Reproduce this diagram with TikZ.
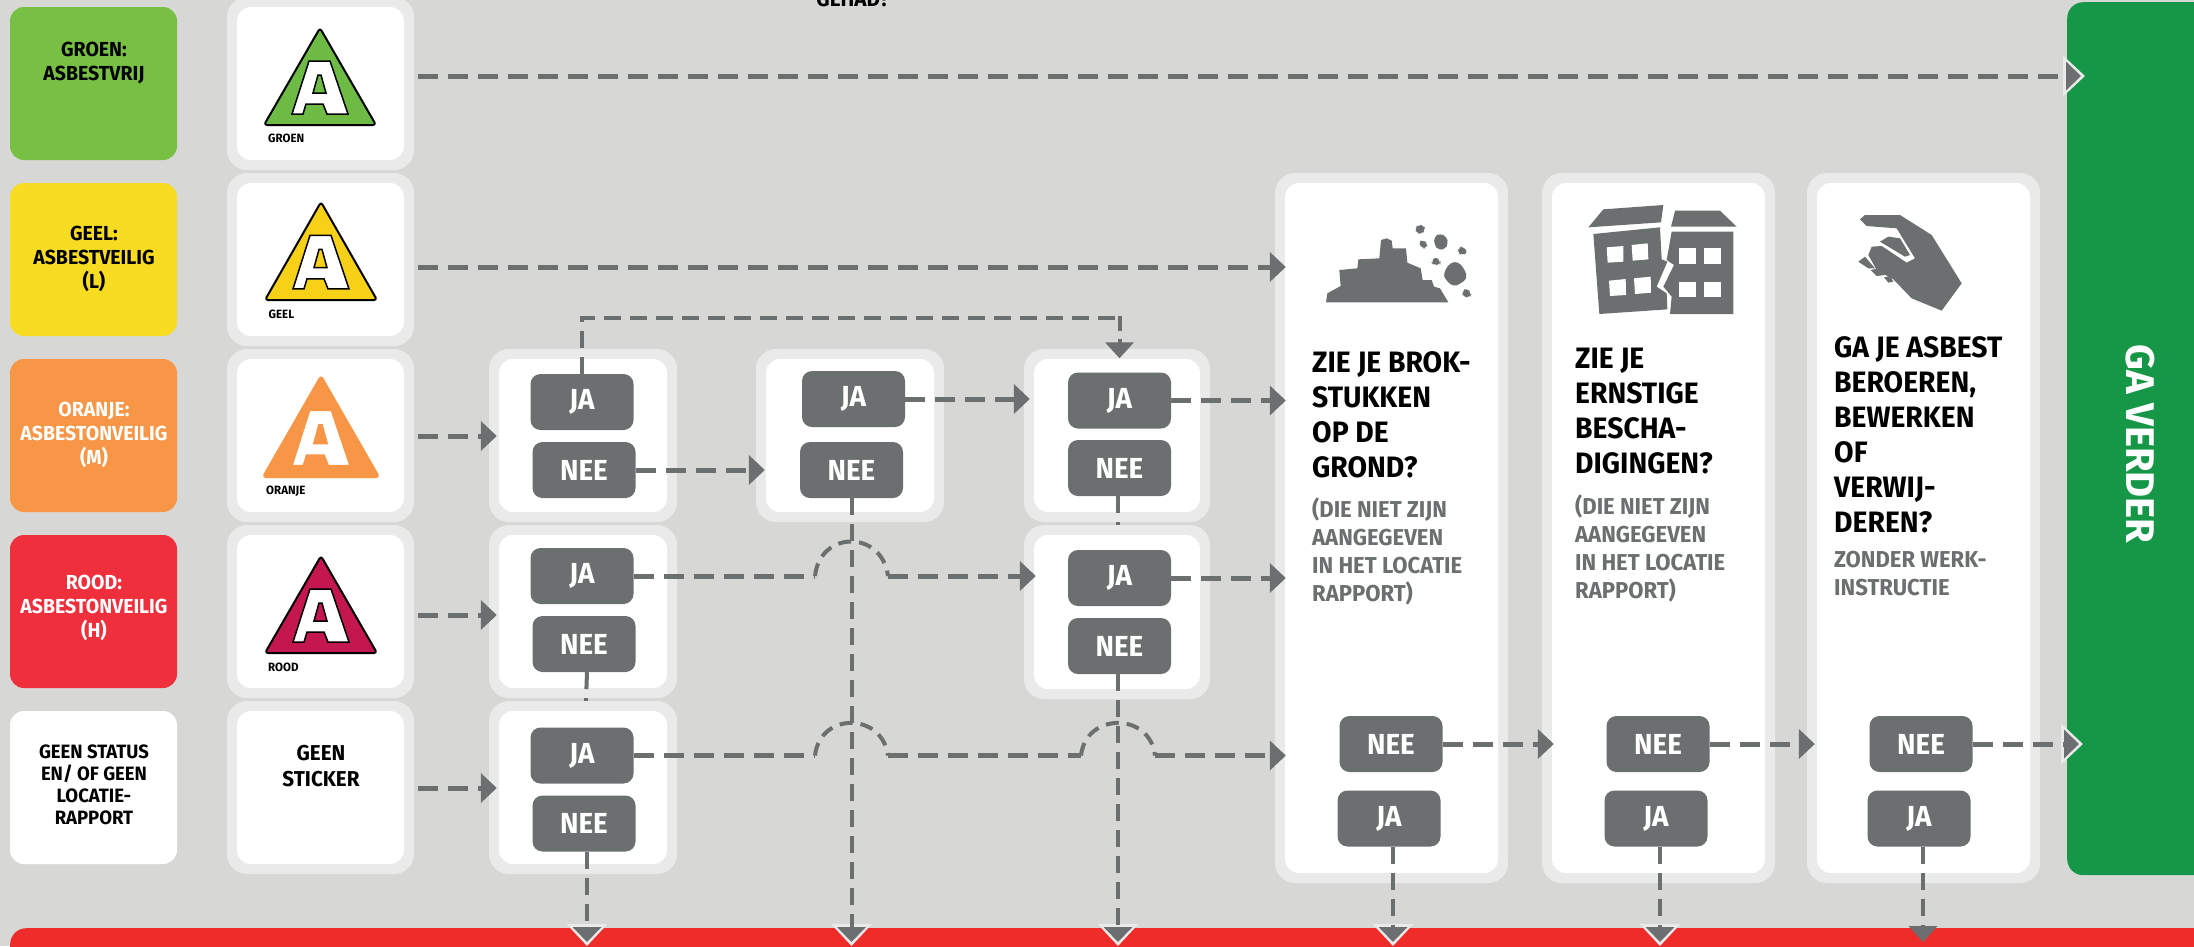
\documentclass[tikz,border=0pt]{standalone}
\usepackage{fontspec}
\usetikzlibrary{arrows.meta,calc}
\newfontfamily\kl[FakeStretch=0.96]{Fira Sans}
\newfontfamily\klw[FakeStretch=1.0]{Fira Sans}
\definecolor{bgc}{HTML}{D7D8D6}
\definecolor{cardo}{HTML}{E9EAE9}
\definecolor{btnc}{HTML}{6B6F70}
\definecolor{cgreen}{HTML}{78C043}
\definecolor{cyellow}{HTML}{F8DC22}
\definecolor{corange}{HTML}{F79646}
\definecolor{cred}{HTML}{EF2F3C}
\definecolor{cbar}{HTML}{EE2C2A}
\definecolor{cgo}{HTML}{169647}
\definecolor{cmag}{HTML}{C4174F}
\definecolor{tgreen}{HTML}{6DBB45}
\definecolor{tyellow}{HTML}{F7D117}
\pgfdeclarelayer{back}\pgfdeclarelayer{mid}
\pgfsetlayers{back,mid,main}
\tikzset{
 outercard/.style={fill=cardo,rounded corners=20pt,inner sep=0pt},
 innercard/.style={fill=white,rounded corners=14pt,inner sep=0pt},
 colorbox/.style={rounded corners=14pt,inner sep=0pt},
 btn/.style={fill=btnc,rounded corners=10pt,minimum width=103pt,minimum height=56pt,inner sep=0pt,text=white,font=\kl\bfseries\fontsize{29}{29}\selectfont},
 boxtext/.style={inner sep=0pt,align=center,font=\kl\bfseries\fontsize{20.3}{24}\selectfont},
 qtext/.style={inner sep=0pt,align=left,anchor=north west,font=\kl\bfseries\fontsize{29.5}{35}\selectfont},
 subtext/.style={inner sep=0pt,align=left,anchor=north west,text=btnc,font=\kl\bfseries\fontsize{23}{28}\selectfont},
 stlabel/.style={inner sep=0pt,anchor=west,font=\kl\bfseries\fontsize{12}{12}\selectfont},
 flow/.style={draw=btnc,line width=5pt,dash pattern=on 20pt off 10pt},
 vflow/.style={draw=btnc,line width=4pt,dash pattern=on 17pt off 9pt},
 hopflow/.style={draw=btnc,line width=4pt,dash pattern=on 13pt off 8pt},
 tip/.style={-{Triangle[length=16pt,width=29pt,color=btnc]}},
 vtip/.style={-{Triangle[length=16pt,width=28pt,color=btnc]}},
 rimtip/.style={-{Triangle[length=22pt,width=40pt,color=cardo]}},
 coretip/.style={shorten >=4pt,-{Triangle[length=15pt,width=28pt,color=btnc]}},
 icon/.style={fill=btnc,draw=none},
 hole/.style={fill=white,draw=none}
}
% style, from, to : arrow whose head has a pale rim, over a coloured bar
\newcommand{\bararrow}[3]{%
 \path[#1,rimtip,dash pattern=on 0pt off 4000pt,draw=cardo] #2 -- #3;
 \draw[#1,coretip] #2 -- #3;}
% name x1 y1 x2 y2 : white card with its pale rim
\newcommand{\cardpair}[5]{%
 \node[outercard,minimum width={(#4-#2+20)*1pt},minimum height={(#5-#3+20)*1pt}] (#1o) at ({(#2+#4)/2},{(#3+#5)/2}) {};
 \node[innercard,minimum width={(#4-#2)*1pt},minimum height={(#5-#3)*1pt}] (#1) at ({(#2+#4)/2},{(#3+#5)/2}) {};}
% name y1 y2 colour
\newcommand{\colbox}[4]{%
 \node[colorbox,fill=#4,minimum width=167pt,minimum height={(#3-#2)*1pt}] (#1) at (93.5,{(#2+#3)/2}) {};}
% apex x, apex y, half width, height, fill, outline
\newcommand{\sticker}[6]{%
 \begin{scope}[shift={(#1,#2)},xscale=#3/55,yscale=#4/96]
 \draw[fill=#5,draw=#6,line width=2pt,line join=round,rounded corners=3pt] (0,-1) -- (-56,96) -- (56,96) -- cycle;
 \draw[fill=white,draw=#6,line width=1.5pt,even odd rule,line join=miter]
  (-11,32) -- (10,32) -- (28,85) -- (7,85) -- (3,75) -- (-14,75) -- (-17,85) -- (-28,85) -- cycle
  (-2,46) -- (1,46) -- (6,64) -- (-7,64) -- cycle;
 \end{scope}}
\begin{document}
\begin{tikzpicture}[x=1pt,y=-1pt]
\clip (0,0) rectangle (2194,946);
\begin{pgfonlayer}{back}
\fill[bgc] (0,0) rectangle (2194,946);
\colbox{bg}{7}{160}{cgreen}
\colbox{by}{183}{336}{cyellow}
\colbox{bo}{359}{512}{corange}
\colbox{br}{535}{688}{cred}
\colbox{bw}{711}{864}{white}
\cardpair{sg}{237}{7}{404}{160}
\cardpair{sy}{237}{183}{404}{336}
\cardpair{so}{237}{359}{404}{512}
\cardpair{sr}{237}{535}{404}{688}
\cardpair{sw}{237}{711}{404}{864}
\cardpair{ca}{499}{359}{667}{512}
\cardpair{cb}{499}{535}{667}{688}
\cardpair{cc}{766}{359}{934}{512}
\cardpair{cd}{1034}{359}{1200}{512}
\cardpair{qa}{1285}{183}{1498}{873}
\cardpair{qb}{1552}{183}{1765}{873}
\cardpair{qc}{1817}{183}{2030}{873}
\node[fill=cgo,rounded corners=16pt,inner sep=0pt,anchor=north west,minimum width=180pt,minimum height=873pt] (gb) at (2067,2) {};
\node[fill=cbar,rounded corners=16pt,inner sep=0pt,anchor=north west,minimum width=2240pt,minimum height=60pt] (rb) at (10,928) {};
\end{pgfonlayer}
% cards that cover the line coming from the row above
\cardpair{ce}{499}{711}{667}{864}
\cardpair{cf}{1034}{535}{1200}{689}
% texts in the colour boxes
\node[boxtext] (tg) at (94,63) {GROEN:\\ASBESTVRIJ};
\node[boxtext] (ty) at (94,259) {GEEL:\\ASBESTVEILIG\\(L)};
\node[boxtext,text=white] (to) at (94,435) {ORANJE:\\ASBESTONVEILIG\\(M)};
\node[boxtext,text=white] (tr) at (94,608) {ROOD:\\ASBESTONVEILIG\\(H)};
\node[boxtext,font=\kl\bfseries\fontsize{19.3}{22}\selectfont] (tw) at (94,785) {GEEN STATUS\\EN/ OF GEEN\\LOCATIE-\\RAPPORT};
\node[boxtext,font=\kl\bfseries\fontsize{21.5}{26}\selectfont] (ts) at (321,766) {GEEN\\STICKER};
\node[inner sep=0pt,anchor=base,font=\kl\bfseries\fontsize{21.5}{21.5}\selectfont] (th) at (853,6) {GEHAD?};
% stickers
\sticker{320}{29}{55}{96}{tgreen}{black}
\sticker{321}{203}{55}{97}{tyellow}{black}
\sticker{321}{377}{57}{100}{corange}{corange}
\sticker{321}{557}{55}{96}{cmag}{black}
\node[stlabel] (lg) at (268,138) {GROEN};
\node[stlabel] (ly) at (268.5,314) {GEEL};
\node[stlabel] (lo) at (266,491) {ORANJE};
\node[stlabel] (lr) at (268,667) {ROOD};
% buttons
\node[btn] (jo1) at (582,402) {JA};
\node[btn] (no1) at (584,470) {NEE};
\node[btn] (jr1) at (582,576) {JA};
\node[btn] (nr1) at (584,644) {NEE};
\node[btn] (jw1) at (582,755.5) {JA};
\node[btn] (nw1) at (584,823.5) {NEE};
\node[btn] (jo2) at (853.5,399) {JA};
\node[btn] (no2) at (851.5,470) {NEE};
\node[btn] (jo3) at (1119.5,400.5) {JA};
\node[btn] (no3) at (1119.5,468) {NEE};
\node[btn] (jr3) at (1119.5,578) {JA};
\node[btn] (nr3) at (1119.5,646) {NEE};
\node[btn] (nqa) at (1391,744) {NEE};
\node[btn] (jqa) at (1389,818.5) {JA};
\node[btn] (nqb) at (1658,744) {NEE};
\node[btn] (jqb) at (1656,818.5) {JA};
\node[btn] (nqc) at (1921,744) {NEE};
\node[btn] (jqc) at (1919,818.5) {JA};
% question texts
\node[qtext] (qta) at (1312,351.5) {ZIE JE BROK-\\STUKKEN\\OP DE\\GROND?};
\node[subtext] (sta) at (1312,497.5) {(DIE NIET ZIJN\\AANGEGEVEN\\IN HET LOCATIE\\RAPPORT)};
\node[qtext] (qtb) at (1575,347.5) {ZIE JE\\ERNSTIGE\\BESCHA-\\DIGINGEN?};
\node[subtext] (stb) at (1575,494.5) {(DIE NIET ZIJN\\AANGEGEVEN\\IN HET LOCATIE\\RAPPORT)};
\node[qtext] (qtc) at (1834,336.5) {GA JE ASBEST\\BEROEREN,\\BEWERKEN\\OF\\VERWIJ-\\DEREN?};
\node[subtext] (stc) at (1834,551) {ZONDER WERK-\\INSTRUCTIE};
\node[inner sep=0pt,rotate=-90,text=white,font=\klw\bfseries\fontsize{40}{40}\selectfont] (go) at (2140,444) {GA VERDER};
% rubble icon
\begin{scope}[shift={(1280,190)},scale=1/3]
\fill[icon] (138,337) -- (142,310) -- (182,288) -- (178,240) -- (232,235) -- (235,208) -- (298,205) -- (303,150) -- (320,145) -- (335,152) -- (338,175) -- (378,175) -- (382,218) -- (422,235) -- (428,270) -- (455,270) -- (462,290) -- (480,295) -- (505,337) -- cycle;
\begin{scope}[rounded corners=4pt]
\fill[icon] (405,115) -- (415,104) -- (432,106) -- (436,120) -- (425,132) -- (410,130) -- cycle;
\fill[icon] (414,155) -- (430,150) -- (443,160) -- (440,175) -- (425,175) -- cycle;
\fill[icon] (462,140) -- (480,130) -- (500,140) -- (505,160) -- (495,178) -- (475,180) -- (463,165) -- cycle;
\fill[icon] (535,175) -- (548,167) -- (565,190) -- (545,195) -- (533,188) -- cycle;
\fill[icon] (453,215) -- (467,198) -- (482,215) -- (480,225) -- (460,225) -- cycle;
\fill[icon] (490,250) -- (510,218) -- (535,215) -- (555,240) -- (562,265) -- (540,282) -- (520,290) -- (495,268) -- cycle;
\fill[icon] (545,305) -- (560,293) -- (575,310) -- (570,322) -- (550,322) -- cycle;
\end{scope}
\end{scope}
% building icon
\begin{scope}[shift={(1560,190)},scale=1/3]
\fill[icon] (85,112) -- (130,58) -- (310,45) -- (303,97) -- cycle;
\fill[icon] (333,110) -- (345,62) -- (480,62) -- (530,110) -- cycle;
\fill[icon] (100,132) -- (300,112) -- (305,208) -- (322,215) -- (290,290) -- (320,310) -- (322,358) -- (118,372) -- cycle;
\fill[icon] (335,125) -- (520,125) -- (520,372) -- (330,372) -- (335,320) -- (310,290) -- (342,225) -- (320,210) -- cycle;
\fill[hole] (140,172) -- (190,168) -- (190,215) -- (143,218) -- cycle;
\fill[hole] (215,165) -- (263,160) -- (265,208) -- (218,212) -- cycle;
\fill[hole] (147,272) -- (197,267) -- (198,315) -- (150,318) -- cycle;
\fill[hole] (222,265) -- (272,260) -- (273,308) -- (225,312) -- cycle;
\fill[hole] (358,175) rectangle (407,222);
\fill[hole] (432,175) rectangle (482,222);
\fill[hole] (358,275) rectangle (407,322);
\fill[hole] (432,275) rectangle (482,322);
% hand icon
\fill[icon] (900,88) -- (915,75) -- (1020,75) -- (1115,135) -- (1205,280) -- (1145,362) -- (1055,325) -- (1000,268) -- (950,240) -- (925,195) -- (935,170) -- (965,168) -- (1040,218) -- (1065,205) -- (1010,115) -- (920,108) -- cycle;
\fill[icon] (960,155) -- (985,140) -- (1020,145) -- (1050,195) -- (1035,200) -- cycle;
\fill[icon] (895,215) -- (915,200) -- (945,235) -- (925,235) -- cycle;
\fill[icon] (932,240) -- (955,235) -- (975,255) -- (950,258) -- cycle;
\fill[icon] (972,262) -- (990,258) -- (1000,275) -- (985,278) -- cycle;
\end{scope}
% connector ends and jumps
\coordinate (sga) at (418,76);
\coordinate (sya) at (418,267);
\coordinate (soa) at (418,436);
\coordinate (sra) at (418,615);
\coordinate (swa) at (418,788);
\coordinate (ha1) at (815,576);
\coordinate (ha2) at (888,576);
\coordinate (hb1) at (815,755.5);
\coordinate (hb2) at (888,755.5);
\coordinate (hc1) at (1081,755.5);
\coordinate (hc2) at (1155,755.5);
% lines that go behind the card of the next row
\begin{pgfonlayer}{mid}
\draw[vflow] ([xshift=3pt]nr1.south) -- ([xshift=3pt]jw1.north);
\draw[vflow] ([xshift=-1.5pt]no3.south) -- ([xshift=-1.5pt]jr3.north);
\end{pgfonlayer}
% connectors
\bararrow{flow}{(sga)}{($(sga -| gb.west)+(18,0)$)}
\draw[flow,tip] (sya) -- ($(sya -| qa.west)+(1,0)$);
\draw[flow,tip] (soa) -- ($(soa -| ca.west)+(-2,0)$);
\draw[flow,tip] (sra) -- ($(sra -| cb.west)+(-2,0)$);
\draw[flow,tip] (swa) -- ($(swa -| ce.west)+(-2,0)$);
\draw[vflow,line width=4.5pt] (jo1.north) |- ($(jo1.north -| jo3.north)+(0,-56)$);
\draw[vflow,vtip,dash pattern=on 15pt off 8pt] ($(jo3.north)+(0,-56)$) -- ($(jo3.north)+(0,-14)$);
\draw[flow,tip] (no1.east) -- ($(no1.east -| cc.west)+(-1,0)$);
\draw[flow,tip] (jo2.east) -- ($(jo2.east -| cd.west)+(-4,0)$);
\draw[flow,tip] (jo3.east) -- ($(jo3.east -| qa.west)+(1,0)$);
\draw[flow,tip] (jr3.east) -- ($(jr3.east -| qa.west)+(1,0)$);
\draw[flow] (jr1.east) -- (ha1);
\draw[hopflow] (ha1) .. controls (820,530) and (882,530) .. (ha2);
\draw[flow,tip] (ha2) -- ($(ha2 -| cf.west)+(2,0)$);
\draw[flow] (jw1.east) -- (hb1);
\draw[hopflow] (hb1) .. controls (820,712) and (882,712) .. (hb2);
\draw[flow] (hb2) -- (hc1);
\draw[hopflow] (hc1) .. controls (1086,712) and (1150,712) .. (hc2);
\draw[flow,tip] (hc2) -- ($(hc2 -| qa.west)+(1,0)$);
\draw[flow,tip] (nqa.east) -- ($(nqa.east -| qb.west)+(2,0)$);
\draw[flow,tip] (nqb.east) -- ($(nqb.east -| qc.west)+(-2,0)$);
\bararrow{flow}{(nqc.east)}{($(nqc.east -| gb.west)+(16,0)$)}
\bararrow{vflow}{([xshift=3pt]nw1.south)}{($([xshift=3pt]nw1.south |- rb.north)+(0,18)$)}
\bararrow{vflow}{(no2.south)}{($(no2.south |- rb.north)+(0,18)$)}
\bararrow{vflow}{([xshift=-1.5pt]nr3.south)}{($([xshift=-1.5pt]nr3.south |- rb.north)+(0,18)$)}
\bararrow{vflow}{([xshift=4pt]jqa.south)}{($([xshift=4pt]jqa.south |- rb.north)+(0,18)$)}
\bararrow{vflow}{([xshift=4pt]jqb.south)}{($([xshift=4pt]jqb.south |- rb.north)+(0,18)$)}
\draw[vflow,vtip] ([xshift=4pt]jqc.south) -- ($([xshift=4pt]jqc.south |- rb.north)+(0,14)$);
\end{tikzpicture}
\end{document}
